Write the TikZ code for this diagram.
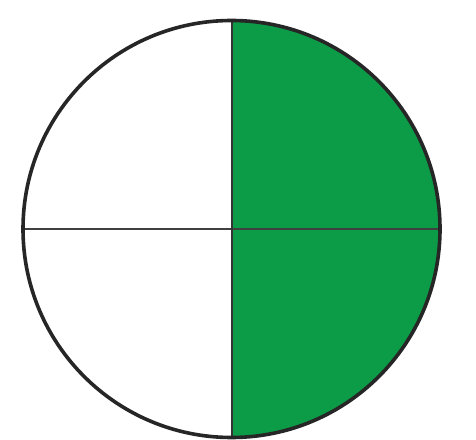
\documentclass[tikz,border=0pt]{standalone}
\definecolor{halfgreen}{RGB}{12,156,72}
\begin{document}
\begin{tikzpicture}[x=1pt,y=1pt]
\useasboundingbox (0,0) rectangle (476,439);
\coordinate (c) at (231.5,210);
\fill[halfgreen] (231.5,418.5) arc (90:-90:208.5) -- cycle;
\draw[line width=1.6pt,black!75] (23,210) -- (440,210);
\draw[line width=2pt,black!80] (231.5,418.5) -- (231.5,1.5);
\draw[line width=3.6pt,black!85] (c) circle (208.5);
\end{tikzpicture}
\end{document}
